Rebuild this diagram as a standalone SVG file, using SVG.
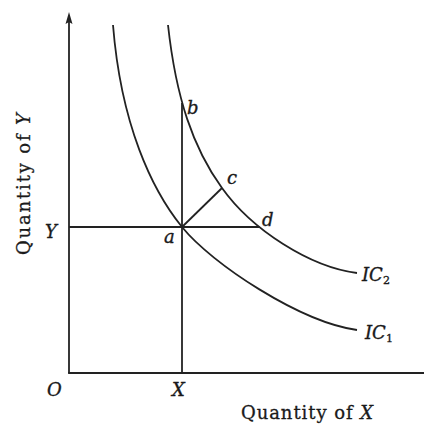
<svg xmlns="http://www.w3.org/2000/svg" width="424" height="426" viewBox="0 0 424 426">
<style>
.ln{fill:none;stroke:#222;stroke-width:1.8}
.lb{font-family:"DejaVu Serif","Liberation Serif",serif;font-style:italic;font-size:18px;fill:#1a1a1a;stroke:#1a1a1a;stroke-width:0.35}
.ax{font-family:"DejaVu Serif","Liberation Serif",serif;font-size:18px;fill:#1a1a1a;stroke:#1a1a1a;stroke-width:0.3}
.sub{font-size:11px;font-style:normal}
</style>
<rect width="424" height="426" fill="#fff"/>
<g id="axes">
<path id="y-axis" class="ln" d="M69,373 V16"/>
<path id="y-arrow" d="M69,12 L72.5,24 L69,22 L65.5,24 Z" fill="#222"/>
<path id="x-axis" class="ln" d="M68.1,373 H424"/>
</g>
<g id="curves">
<path id="ic1" class="ln" d="M113,25 C121,125 152,190 182,227 C212,264 300,322 357,330"/>
<path id="ic2" class="ln" d="M168,25 C176,98 193,148 222,188 C252,230 310,267 357,273"/>
</g>
<g id="connectors">
<path id="line-ab" class="ln" d="M182,103 V373"/>
<path id="line-Yd" class="ln" d="M69,227 H259.5"/>
<path id="line-ac" class="ln" d="M182,227 L222,188"/>
</g>
<g id="labels">
<g id="pt-b"><text class="lb" x="187" y="114">b</text></g>
<g id="pt-c"><text class="lb" x="227" y="184">c</text></g>
<g id="pt-d"><text class="lb" x="262" y="226">d</text></g>
<g id="pt-a"><text class="lb" x="164" y="243">a</text></g>
<g id="lbl-Y"><text class="lb" x="45" y="238">Y</text></g>
<g id="lbl-O"><text class="lb" x="47" y="396">O</text></g>
<g id="lbl-X"><text class="lb" x="172" y="396">X</text></g>
<g id="lbl-ic2"><text class="lb" x="362" y="281">IC<tspan class="sub" dy="3">2</tspan></text></g>
<g id="lbl-ic1"><text class="lb" x="365" y="339">IC<tspan class="sub" dy="3">1</tspan></text></g>
<g id="axis-x-title"><text class="ax" x="307" y="419" text-anchor="middle" textLength="132" lengthAdjust="spacing">Quantity of <tspan font-style="italic">X</tspan></text></g>
<g id="axis-y-title"><text class="ax" transform="translate(30,184) rotate(-90)" text-anchor="middle" textLength="142" lengthAdjust="spacing">Quantity of <tspan font-style="italic">Y</tspan></text></g>
</g>
</svg>
